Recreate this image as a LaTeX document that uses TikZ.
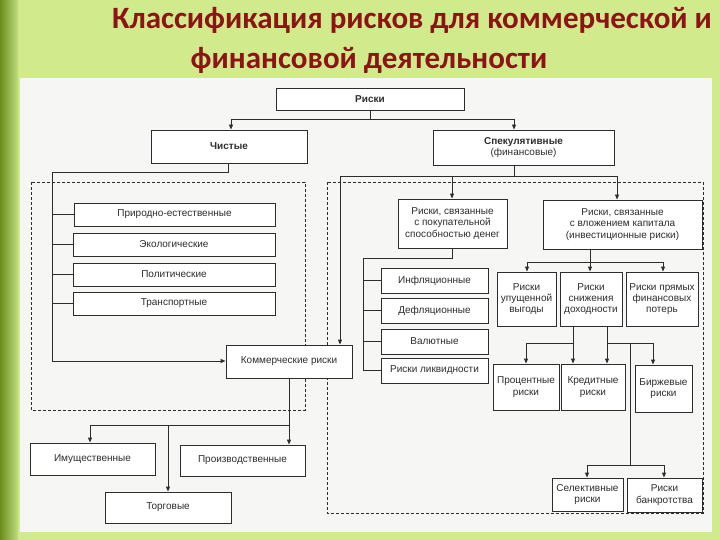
\documentclass[tikz,border=0pt]{standalone}
\usepackage{fontspec}
\setmainfont{Liberation Sans}
\newfontfamily\titlefont{Carlito}
\usetikzlibrary{arrows.meta,shadows}
\definecolor{bg}{RGB}{208,234,140}
\definecolor{stripe}{RGB}{150,200,40}
\definecolor{ttl}{RGB}{140,20,20}
\definecolor{paper}{RGB}{246,246,244}
\definecolor{ink}{RGB}{45,45,45}
\tikzset{
 box/.style={draw=ink,line width=0.9pt,fill=white,inner sep=1pt,align=center,font=\fontsize{10}{11.3}\selectfont,text=ink},
 ln/.style={draw=ink,line width=0.9pt},
 arr/.style={ln,-{Triangle[length=5pt,width=4pt]}},
 dbox/.style={draw=ink,line width=0.8pt,dash pattern=on 3pt off 2pt},
 ttlstyle/.style={font=\titlefont\bfseries\fontsize{31}{34}\selectfont,text=ttl,inner sep=0pt}
}
\newcommand\bx[6]{\node[box,minimum width={(#4-#2)*1pt},minimum height={(#5-#3)*1pt}] (#1) at ({(#2+#4)/2},{(#3+#5)/2}) {#6};}
\begin{document}
\begin{tikzpicture}[x=1pt,y=-1pt]
\useasboundingbox (0,0) rectangle (720,540);
\fill[bg] (0,0) rectangle (720,540);
\shade[left color=stripe!70!black,right color=stripe!60!white] (0,0) rectangle (18,540);
\fill[paper] (20,78) rectangle (712,532);
\node[ttlstyle] (t1) at (412,20) {Классификация рисков для коммерческой и};
\node[ttlstyle] (t2) at (369,60) {финансовой деятельности};
% dashed frames
\draw[dbox] (31,182) rectangle (305,410);
\draw[dbox] (327,182) rectangle (703,513);
% boxes
\bx{riski}{276}{88}{464}{110}{\textbf{Риски}}
\bx{chist}{151}{130}{307}{163}{\textbf{Чистые}}
\bx{spek}{433}{130}{614}{165}{\textbf{Спекулятивные}\\(финансовые)}
\bx{prir}{74}{203}{275}{226}{Природно-естественные}
\bx{ekol}{73}{233}{275}{256}{Экологические}
\bx{polit}{73}{263}{275}{286}{Политические}
\bx{trans}{73}{292}{275}{315}{Транспортные}
\bx{komm}{226}{345}{352}{378}{Коммерческие риски}
\bx{pok}{398}{199}{507}{248}{Риски, связанные\\с покупательной\\способностью денег}
\bx{inv}{543}{200}{702}{249}{Риски, связанные\\с вложением капитала\\(инвестиционные риски)}
\bx{infl}{381}{268}{488}{293}{Инфляционные}
\bx{defl}{381}{298}{488}{323}{Дефляционные}
\bx{val}{381}{329}{488}{354}{Валютные}
\bx{likv}{381}{358}{488}{383}{Риски ликвидности}
\bx{upus}{497}{272}{556}{326}{Риски\\упущенной\\выгоды}
\bx{snij}{560}{272}{622}{326}{Риски\\снижения\\доходности}
\bx{pryam}{626}{272}{698}{326}{Риски прямых\\финансовых\\потерь}
\bx{proc}{493}{364}{559}{410}{Процентные\\риски}
\bx{kred}{561}{364}{625}{410}{Кредитные\\риски}
\bx{birj}{635}{365}{692}{412}{Биржевые\\риски}
\bx{sel}{552}{478}{623}{511}{Селективные\\риски}
\bx{bank}{627}{478}{702}{512}{Риски\\банкротства}
\bx{imu}{30}{443}{155}{475}{Имущественные}
\bx{proiz}{180}{445}{305}{476}{Производственные}
\bx{torg}{105}{492}{231}{523}{Торговые}
% Riski -> Chistye, Spek
\coordinate (a1) at (231,119); \coordinate (a2) at (514,119);
\draw[ln] (riski.south) -- (riski.south |- a1);
\draw[ln] (a1) -- (a2);
\draw[arr] (a1) -- (a1 |- chist.north);
\draw[arr] (a2) -- (a2 |- spek.north);
% Chistye branch
\coordinate (c0) at (228,172); \coordinate (c1) at (52,172); \coordinate (c2) at (52,361);
\draw[ln] (c0 |- chist.south) -- (c0) -- (c1) -- (c2);
\draw[arr] (c2) -- (c2 -| komm.west);
\foreach \b in {prir,ekol,polit,trans} \draw[ln] (c1 |- \b.west) -- (\b.west);
% Spek branch
\coordinate (s0) at (514,176); \coordinate (s1) at (340,176); \coordinate (s2) at (452,176); \coordinate (s3) at (617,176);
\draw[ln] (spek.south -| s0) -- (s0);
\draw[ln] (s1) -- (s3);
\draw[arr] (s1) -- (s1 |- komm.north);
\draw[arr] (s2) -- (s2 |- pok.north);
\draw[arr] (s3) -- (s3 |- inv.north);
% pokupatel'naya
\coordinate (p0) at (452,258); \coordinate (p1) at (363,258); \coordinate (p2) at (363,370);
\draw[ln] (pok.south -| p0) -- (p0) -- (p1) -- (p2);
\foreach \b in {infl,defl,val,likv} \draw[ln] (p1 |- \b.west) -- (\b.west);
% investment
\coordinate (i0) at (590,262); \coordinate (i1) at (527,262); \coordinate (i2) at (663,262);
\draw[ln] (inv.south -| i0) -- (i0); \draw[ln] (i1) -- (i2);
\draw[arr] (i1) -- (i1 |- upus.north);
\draw[arr] (i0) -- (i0 |- snij.north);
\draw[arr] (i2) -- (i2 |- pryam.north);
% snijenie
\coordinate (n1) at (573,343); \coordinate (n2) at (607,343); \coordinate (n3) at (526,343); \coordinate (n4) at (653,343);
\draw[ln] (snij.south -| n1) -- (n1); \draw[ln] (snij.south -| n2) -- (n2);
\draw[ln] (n3) -- (n1); \draw[ln] (n2) -- (n4);
\draw[arr] (n3) -- (n3 |- proc.north);
\draw[arr] (n1) -- (n1 |- kred.north);
\draw[arr] (n2) -- (n2 |- kred.north);
\draw[arr] (n4) -- (n4 |- birj.north);
\coordinate (m0) at (630,343); \coordinate (m1) at (630,465); \coordinate (m2) at (587,465); \coordinate (m3) at (664,465);
\draw[ln] (m0) -- (m1); \draw[ln] (m2) -- (m3);
\draw[arr] (m2) -- (m2 |- sel.north);
\draw[arr] (m3) -- (m3 |- bank.north);
% kommercheskie
\coordinate (k0) at (289,425); \coordinate (k1) at (90,425); \coordinate (k2) at (168,425);
\draw[ln] (komm.south -| k0) -- (k0); \draw[ln] (k1) -- (k0);
\draw[arr] (k0) -- (k0 |- proiz.north);
\draw[arr] (k1) -- (k1 |- imu.north);
\draw[arr] (k2) -- (k2 |- torg.north);
\end{tikzpicture}
\end{document}
